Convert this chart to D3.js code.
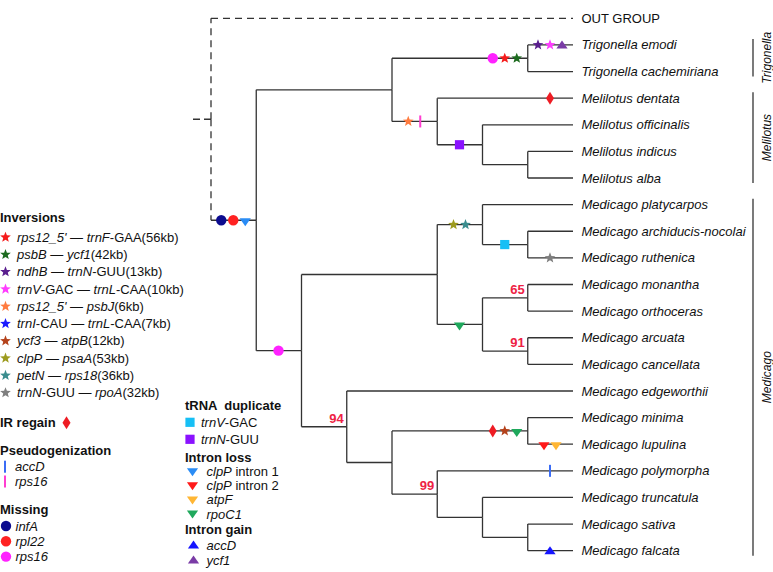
<!DOCTYPE html>
<html><head><meta charset="utf-8">
<script src="https://cdn.jsdelivr.net/npm/d3@7"></script>
<style>
html,body{margin:0;padding:0;background:#fff;}
svg{display:block;font-family:"Liberation Sans",Arial,Helvetica,sans-serif;}
</style></head>
<body><svg id="chart" width="773" height="572"></svg>
<script>
// ---------- DATA ----------
// tree topology: [parent, child]
const treeLinks = [
  ["", "root"],
  ["root", "OUT GROUP"],
  ["root", "Ingroup"],
  ["Ingroup", "TriMel"],
  ["Ingroup", "Medicago"],
  ["TriMel", "Trigonella"],
  ["TriMel", "Melilotus"],
  ["Trigonella", "Trigonella emodi"],
  ["Trigonella", "Trigonella cachemiriana"],
  ["Melilotus", "Melilotus dentata"],
  ["Melilotus", "Mel2"],
  ["Mel2", "Melilotus officinalis"],
  ["Mel2", "Mel3"],
  ["Mel3", "Melilotus indicus"],
  ["Mel3", "Melilotus alba"],
  ["Medicago", "MedA"],
  ["Medicago", "MedB"],
  ["MedA", "MedA1"],
  ["MedA", "MedA2"],
  ["MedA1", "Medicago platycarpos"],
  ["MedA1", "MedA1b"],
  ["MedA1b", "Medicago archiducis-nocolai"],
  ["MedA1b", "Medicago ruthenica"],
  ["MedA2", "MedA2a"],
  ["MedA2", "MedA2b"],
  ["MedA2a", "Medicago monantha"],
  ["MedA2a", "Medicago orthoceras"],
  ["MedA2b", "Medicago arcuata"],
  ["MedA2b", "Medicago cancellata"],
  ["MedB", "Medicago edgeworthii"],
  ["MedB", "MedB2"],
  ["MedB2", "MedB2a"],
  ["MedB2", "MedB2b"],
  ["MedB2a", "Medicago minima"],
  ["MedB2a", "Medicago lupulina"],
  ["MedB2b", "Medicago polymorpha"],
  ["MedB2b", "MedB2c"],
  ["MedB2c", "Medicago truncatula"],
  ["MedB2c", "MedB2d"],
  ["MedB2d", "Medicago sativa"],
  ["MedB2d", "Medicago falcata"]
];
const outgroupBranches = ["OUT GROUP", "Ingroup"];

// bootstrap support values: [node, value]
const bootstrap = [["MedA2a", 65], ["MedA2b", 91], ["MedB", 94], ["MedB2b", 99]];

// genus brackets: [genus, first taxon, last taxon]
const genera = [
  ["Trigonella", "Trigonella emodi", "Trigonella cachemiriana"],
  ["Melilotus", "Melilotus dentata", "Melilotus alba"],
  ["Medicago", "Medicago platycarpos", "Medicago falcata"]
];

// events on branches (branch leading to node)
const branchEvents = [
  ["Ingroup", ["miss_infA", "miss_rpl22", "il_clpP1"]],
  ["Trigonella", ["miss_rps16", "inv_1", "inv_2"]],
  ["Trigonella emodi", ["inv_3", "inv_4", "ig_ycf1"]],
  ["Melilotus", ["inv_5", "ps_rps16"]],
  ["Melilotus dentata", ["ir"]],
  ["Mel2", ["dup_trnN"]],
  ["Medicago", ["miss_rps16"]],
  ["MedA1", ["inv_8", "inv_9"]],
  ["MedA1b", ["dup_trnV"]],
  ["Medicago ruthenica", ["inv_10"]],
  ["MedA2", ["il_rpoC1"]],
  ["MedB2a", ["ir", "inv_7", "il_rpoC1"]],
  ["Medicago lupulina", ["il_clpP2", "il_atpF"]],
  ["Medicago polymorpha", ["ps_accD"]],
  ["Medicago falcata", ["ig_accD"]]
];

// legend contents (italic parts between asterisks)
const legendInversions = [
  ["inv_1", "*rps12_5'* — *trnF*-GAA(56kb)"],
  ["inv_2", "*psbB* — *ycf1*(42kb)"],
  ["inv_3", "*ndhB* — *trnN*-GUU(13kb)"],
  ["inv_4", "*trnV*-GAC — *trnL*-CAA(10kb)"],
  ["inv_5", "*rps12_5'* — *psbJ*(6kb)"],
  ["inv_6", "*trnI*-CAU — *trnL*-CAA(7kb)"],
  ["inv_7", "*ycf3* — *atpB*(12kb)"],
  ["inv_8", "*clpP* — *psaA*(53kb)"],
  ["inv_9", "*petN* — *rps18*(36kb)"],
  ["inv_10", "*trnN*-GUU — *rpoA*(32kb)"]
];
const legendPseudo = [["ps_accD", "*accD*"], ["ps_rps16", "*rps16*"]];
const legendMissing = [["miss_infA", "*infA*"], ["miss_rpl22", "*rpl22*"], ["miss_rps16", "*rps16*"]];
const legendDuplicate = [["dup_trnV", "*trnV*-GAC"], ["dup_trnN", "*trnN*-GUU"]];
const legendIntronLoss = [["il_clpP1", "*clpP* intron 1"], ["il_clpP2", "*clpP* intron 2"], ["il_atpF", "*atpF*"], ["il_rpoC1", "*rpoC1*"]];
const legendIntronGain = [["ig_accD", "*accD*"], ["ig_ycf1", "*ycf1*"]];

// ---------- STYLES ----------
const markerStyle = {
  inv_1: ["star", "#f51b1b"], inv_2: ["star", "#1d6b1f"], inv_3: ["star", "#5a1e8e"],
  inv_4: ["star", "#ff3cff"], inv_5: ["star", "#ff7b3f"], inv_6: ["star", "#1a1aff"],
  inv_7: ["star", "#b4421b"], inv_8: ["star", "#9d9b1f"], inv_9: ["star", "#3a8d8e"],
  inv_10: ["star", "#7f7f7f"],
  ir: ["diamond", "#ee1c24"],
  ps_accD: ["bar", "#3a6cf5"], ps_rps16: ["bar", "#ff3dd0"],
  miss_infA: ["circle", "#0c0c8f"], miss_rpl22: ["circle", "#ff2222"], miss_rps16: ["circle", "#ff22ff"],
  dup_trnV: ["square", "#16bff5"], dup_trnN: ["square", "#8a12ff"],
  il_clpP1: ["down", "#2a8cf5"], il_clpP2: ["down", "#ff1a1a"], il_atpF: ["down", "#ffb634"], il_rpoC1: ["down", "#1fa85c"],
  ig_accD: ["up", "#1515ff"], ig_ycf1: ["up", "#7a3ca6"]
};
const lineColor = "#333";
const supportColor = "#ee2244";

// ---------- LAYOUT ----------
const svg = d3.select("#chart");
const root = d3.stratify().id(d => d[1]).parentId(d => d[0])(treeLinks);
d3.cluster().separation(() => 1).size([1, 1])(root);

const xPos = d3.scaleLinear().domain([0, 1]).range([211, 573]);
const yPos = d3.scaleLinear().domain([0, 1]).range([5, 564]);
const px = d => xPos(d.y), py = d => yPos(d.x);
const byId = new Map(root.descendants().map(d => [d.id, d]));

// markers
function starPath(R, r) {
  let p = "";
  for (let i = 0; i < 10; i++) {
    const a = -Math.PI / 2 + i * Math.PI / 5, rad = i % 2 ? r : R;
    p += (i ? "L" : "M") + (rad * Math.cos(a)).toFixed(2) + "," + (rad * Math.sin(a)).toFixed(2);
  }
  return p + "Z";
}
function drawMarker(g, key, x, y, onBranch) {
  const [shape, color] = markerStyle[key];
  const m = g.append("g").attr("transform", `translate(${x},${y})`);
  if (shape === "star") m.append("path").attr("d", starPath(5.6, 2.4)).attr("fill", color);
  else if (shape === "diamond") m.append("path").attr("d", "M0,-6.5L4,0L0,6.5L-4,0Z").attr("fill", color);
  else if (shape === "bar") m.append("rect").attr("x", -1).attr("y", -6).attr("width", 2).attr("height", 12).attr("fill", color);
  else if (shape === "circle") m.append("circle").attr("r", 5.2).attr("fill", color);
  else if (shape === "square") m.append("rect").attr("x", -4.6).attr("y", -4.6).attr("width", 9.2).attr("height", 9.2).attr("fill", color);
  else if (shape === "down") m.append("path").attr("d", onBranch ? "M-5.6,-2L5.6,-2L0,6Z" : "M-5.6,-3.5L5.6,-3.5L0,4.5Z").attr("fill", color);
  else if (shape === "up") m.append("path").attr("d", "M-5.6,3.5L5.6,3.5L0,-4.5Z").attr("fill", color);
}

// ---------- TREE ----------
const gTree = svg.append("g");
root.descendants().forEach(d => {
  if (!d.parent) return;
  const p = d.parent;
  const isOut = !p.parent;
  // vertical part
  gTree.append("path")
    .attr("d", `M${px(p)},${py(p)}V${py(d)}`)
    .attr("fill", "none").attr("stroke", lineColor).attr("stroke-width", 1.3)
    .attr("stroke-dasharray", isOut ? "7,5" : null);
  // horizontal part
  gTree.append("path")
    .attr("d", `M${px(p)},${py(d)}H${px(d)}`)
    .attr("fill", "none").attr("stroke", lineColor).attr("stroke-width", 1.3)
    .attr("stroke-dasharray", isOut && d.id === outgroupBranches[0] ? "7,5" : null);
});
// root stub
gTree.append("path")
  .attr("d", `M${px(root) - 18},${py(root)}H${px(root)}`)
  .attr("stroke", lineColor).attr("stroke-width", 1.3).attr("stroke-dasharray", "7,4");

// leaf labels
root.leaves().forEach(d => {
  const t = gTree.append("text")
    .attr("x", px(d) + 8.5).attr("y", py(d)).attr("dy", "0.35em")
    .attr("font-size", 13).attr("fill", "#111")
    .text(d.id);
  if (d.id !== "OUT GROUP") t.attr("font-style", "italic");
});

// bootstrap
bootstrap.forEach(([id, v]) => {
  const d = byId.get(id);
  gTree.append("text").attr("x", px(d) - 3).attr("y", py(d) - 4)
    .attr("text-anchor", "end").attr("font-size", 13).attr("font-weight", "bold")
    .attr("fill", supportColor).text(v);
});

// events
branchEvents.forEach(([id, keys]) => {
  const d = byId.get(id);
  const cx = px(d) - 23, y = py(d);
  keys.forEach((k, i) => drawMarker(gTree, k, cx + (i - (keys.length - 1) / 2) * 12, y, true));
});

// genus brackets
genera.forEach(([name, a, b]) => {
  const y0 = py(byId.get(a)) - 6, y1 = py(byId.get(b)) + 5;
  svg.append("line").attr("x1", 753).attr("x2", 753).attr("y1", y0).attr("y2", y1)
    .attr("stroke", lineColor).attr("stroke-width", 1.3);
  svg.append("text").attr("transform", `translate(767,${(y0 + y1) / 2}) rotate(-90)`)
    .attr("text-anchor", "middle").attr("dy", "0.35em")
    .attr("font-size", 12).attr("font-style", "italic").attr("fill", "#111").text(name);
});

// ---------- LEGEND ----------
function richText(sel, str) {
  str.split("*").forEach((part, i) => {
    if (!part) return;
    sel.append("tspan").attr("font-style", i % 2 ? "italic" : "normal").text(part);
  });
}
const gLeg = svg.append("g");
function title(x, y, txt) {
  return gLeg.append("text").attr("x", x).attr("y", y).attr("dy", "0.35em")
    .attr("font-size", 13).attr("font-weight", "bold").attr("fill", "#111").text(txt);
}
function items(list, mx, tx, y0, step) {
  list.forEach(([k, label], i) => {
    const y = y0 + i * step;
    drawMarker(gLeg, k, mx, y, false);
    const t = gLeg.append("text").attr("x", tx).attr("y", y).attr("dy", "0.35em")
      .attr("font-size", 13).attr("fill", "#111");
    richText(t, label);
  });
}
// left column
title(0, 217, "Inversions");
items(legendInversions, 5.5, 17, 237.3, 17.27);
title(0, 422.7, "IR regain");
drawMarker(gLeg, "ir", 66.5, 422.7, false);
title(0, 450, "Pseudogenization");
items(legendPseudo, 5, 15, 466.7, 14.8);
title(0, 509, "Missing");
items(legendMissing, 6, 15.5, 526, 15.3);
// middle column
title(185, 405.7, "tRNA  duplicate").attr("xml:space", "preserve");
items(legendDuplicate, 190, 201, 422.3, 17);
title(185, 457.7, "Intron loss");
items(legendIntronLoss, 192.5, 206.5, 471.7, 14.1);
title(185, 529.3, "Intron gain");
items(legendIntronGain, 193.5, 206.5, 545, 15);
</script></body></html>
